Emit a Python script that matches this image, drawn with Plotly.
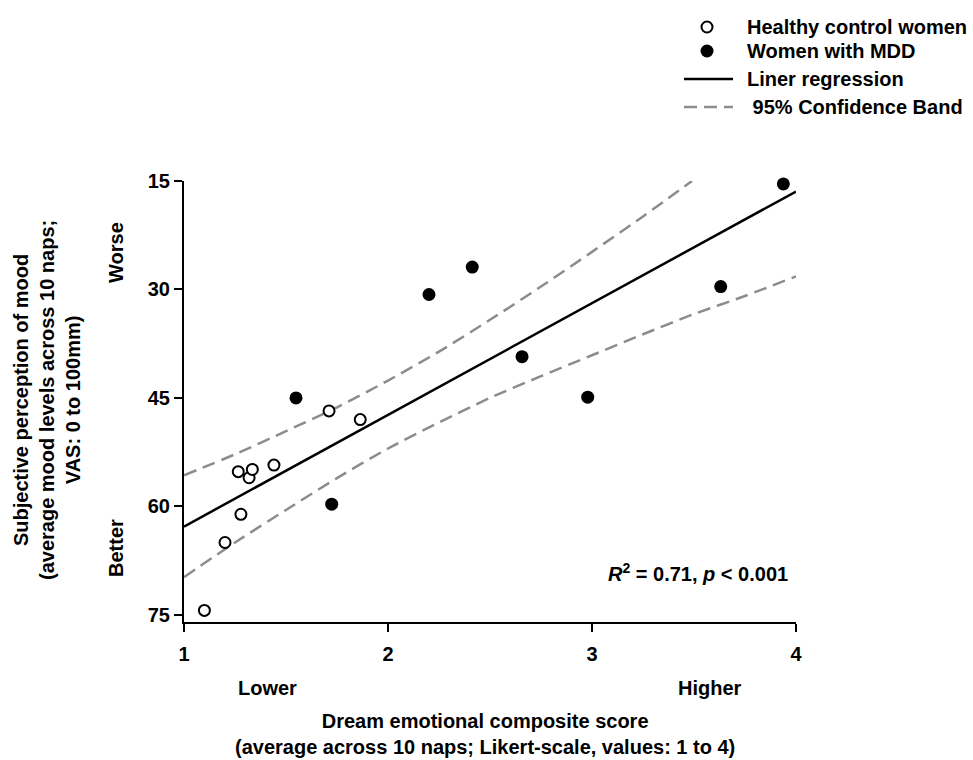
import plotly.graph_objects as go

# ---- data ----
hc_x = [1.711, 1.864, 1.266, 1.319, 1.335, 1.441, 1.279, 1.201, 1.100]
hc_y = [46.8, 48.0, 55.2, 56.05, 54.9, 54.3, 61.1, 65.0, 74.4]

mdd_x = [1.549, 1.724, 2.201, 2.413, 2.657, 2.979, 3.631, 3.938]
mdd_y = [45.0, 59.7, 30.7, 26.9, 39.3, 44.9, 29.6, 15.4]

reg_x = [1.0, 4.0]
reg_y = [62.8, 16.45]

ci_up_x = [1.0, 1.25, 1.5, 1.75, 2.0, 2.25, 2.5, 2.75, 3.0, 3.25, 3.49]
ci_up_y = [55.7, 52.8, 49.6, 46.3, 42.6, 38.6, 34.2, 29.6, 24.8, 19.9, 15.0]

ci_lo_x = [1.0, 1.25, 1.5, 1.75, 2.0, 2.25, 2.5, 2.75, 3.0, 3.25, 3.5, 3.75, 4.0]
ci_lo_y = [69.8, 65.0, 60.5, 56.1, 52.0, 48.4, 45.0, 42.0, 39.1, 36.2, 33.4, 30.9, 28.2]

x_ticks = [1, 2, 3, 4]
y_ticks = [15, 30, 45, 60, 75]

legend_labels = ["Healthy control women", "Women with MDD", "Liner regression", "\u00a095% Confidence Band"]
stat_text = "<b><i>R</i><sup>2</sup> = 0.71, <i>p</i> &lt; 0.001</b>"

# ---- layout constants (pixels) ----
W, H = 973, 760
L, R, T, B = 184, 796, 181, 622
FONT = "Liberation Sans, Arial, sans-serif"
FS = 20
GRAY = "#8c8c8c"
DASH = "13px,7px"


def px(x):
    return (x - L) / (R - L)


def py(y):
    return (B - y) / (B - T)


fig = go.Figure()

fig.add_trace(go.Scatter(x=ci_up_x, y=ci_up_y, mode="lines",
                         line=dict(color=GRAY, width=2.5, dash=DASH, shape="spline", smoothing=0.8),
                         showlegend=False, hoverinfo="skip"))
fig.add_trace(go.Scatter(x=ci_lo_x, y=ci_lo_y, mode="lines",
                         line=dict(color=GRAY, width=2.5, dash=DASH, shape="spline", smoothing=0.8),
                         showlegend=False, hoverinfo="skip"))
fig.add_trace(go.Scatter(x=reg_x, y=reg_y, mode="lines", line=dict(color="black", width=2.5),
                         name=legend_labels[2], showlegend=False))
fig.add_trace(go.Scatter(x=hc_x, y=hc_y, mode="markers",
                         marker=dict(symbol="circle", size=11, color="white", line=dict(color="black", width=2)),
                         name=legend_labels[0], showlegend=False, cliponaxis=False))
fig.add_trace(go.Scatter(x=mdd_x, y=mdd_y, mode="markers",
                         marker=dict(symbol="circle", size=13, color="black", line=dict(color="black", width=0)),
                         name=legend_labels[1], showlegend=False, cliponaxis=False))

shapes = []
annotations = []


def note(text, x, y, angle=0, xa="center", ya="middle", align="center"):
    annotations.append(dict(text=text, xref="paper", yref="paper", x=px(x), y=py(y), textangle=angle,
                            xanchor=xa, yanchor=ya, showarrow=False, align=align,
                            font=dict(family=FONT, size=FS, color="black")))


# manual legend
leg_y = [27, 51, 79, 107]
mx = 707
r1 = 5.5
shapes.append(dict(type="circle", xref="paper", yref="paper",
                   x0=px(mx - r1), x1=px(mx + r1), y0=py(leg_y[0] + r1), y1=py(leg_y[0] - r1),
                   line=dict(color="black", width=2), fillcolor="white"))
r2 = 6.5
shapes.append(dict(type="circle", xref="paper", yref="paper",
                   x0=px(mx - r2), x1=px(mx + r2), y0=py(leg_y[1] + r2), y1=py(leg_y[1] - r2),
                   line=dict(color="black", width=0), fillcolor="black"))
shapes.append(dict(type="line", xref="paper", yref="paper",
                   x0=px(684), x1=px(733), y0=py(leg_y[2]), y1=py(leg_y[2]),
                   line=dict(color="black", width=2.5)))
shapes.append(dict(type="line", xref="paper", yref="paper",
                   x0=px(684), x1=px(733), y0=py(leg_y[3]), y1=py(leg_y[3]),
                   line=dict(color=GRAY, width=2.5, dash=DASH)))
for lbl, yy in zip(legend_labels, leg_y):
    note("<b>%s</b>" % lbl, 745, yy, xa="left")

# y-axis title and side labels
note("<b>Subjective perception of mood<br>(average mood levels across 10 naps;<br>VAS: 0 to 100mm)</b>", 47, 400, angle=-90)
note("<b>Worse</b>", 116, 253, angle=-90)
note("<b>Better</b>", 116, 548, angle=-90)
# x labels
note("<b>Lower</b>", 267, 688)
note("<b>Higher</b>", 710, 688)
note("<b>Dream emotional composite score<br>(average across 10 naps; Likert-scale, values: 1 to 4)</b>", 485, 734)
# stat
note(stat_text, 790, 572, xa="right")

axis_common = dict(showgrid=False, zeroline=False, showline=True, linecolor="black", linewidth=2,
                   ticks="outside", ticklen=8, tickwidth=2, tickcolor="black",
                   tickfont=dict(family=FONT, size=FS, color="black"), fixedrange=True)

fig.update_layout(
    width=W, height=H,
    margin=dict(l=L, r=W - R, t=T, b=H - B, pad=0),
    paper_bgcolor="white", plot_bgcolor="white",
    showlegend=False,
    shapes=shapes, annotations=annotations,
    xaxis=dict(range=[1, 4], tickvals=x_ticks, ticktext=["<b>%d</b>" % v for v in x_ticks],
               ticklabelstandoff=5, **axis_common),
    yaxis=dict(range=[76, 15], tickvals=y_ticks, ticktext=["<b>%d</b>" % v for v in y_ticks],
               **axis_common),
)

fig.write_html("out.html")
